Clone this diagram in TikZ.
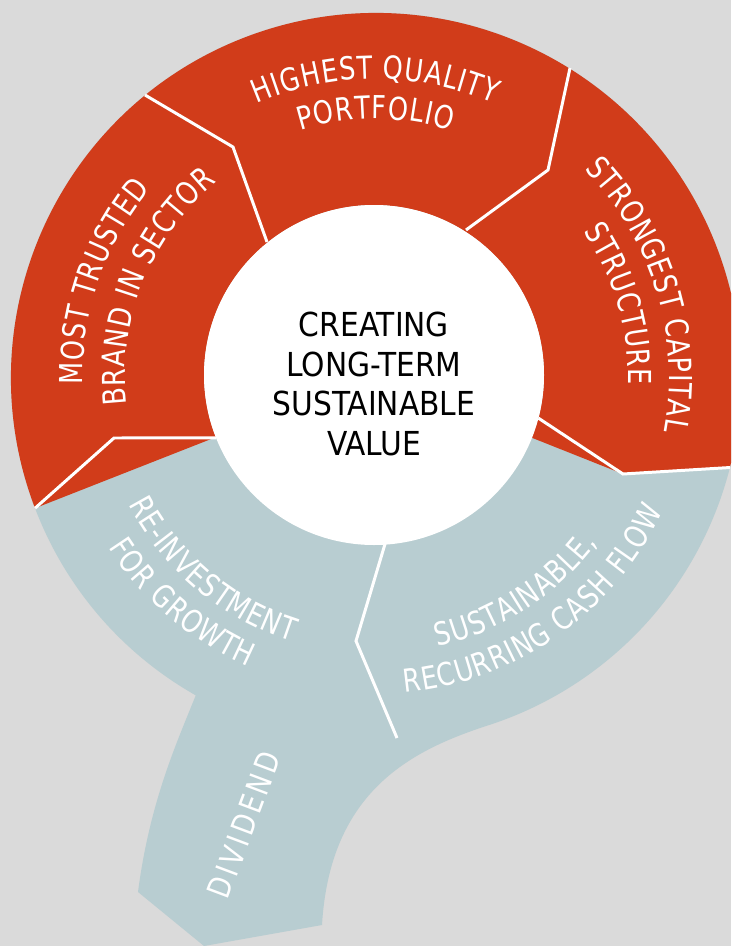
\documentclass[tikz,border=0pt]{standalone}
\usepackage{fontspec}
\setmainfont{DejaVu Sans Condensed}
\newfontfamily\labelfamily[FakeStretch=0.9]{DejaVu Sans Condensed}
\newfontfamily\spacedfamily[FakeStretch=0.9, LetterSpace=12]{DejaVu Sans Condensed}
\usetikzlibrary{decorations.text}
\definecolor{brandred}{HTML}{D13C1A}
\definecolor{flowblue}{HTML}{B8CDD1}
\definecolor{backgray}{HTML}{DADADA}
\newcommand{\arcfont}{\labelfamily\fontsize{18}{21}\selectfont\kern0.5pt}
\newcommand{\corefont}{\fontsize{18.8}{22.4}\selectfont}

\begin{document}
\begin{tikzpicture}[x=0.02cm, y=-0.02cm, divider/.style = {draw=white, line width=1.7pt}, arctext/.style = {decorate, decoration={text along path, text align=center, text color=white, text={|\arcfont|#1}}}]
\useasboundingbox (0,0) rectangle (731,946); \clip (0,0) rectangle (731,946);
\fill[backgray] (0,0) rectangle (731,946);
\coordinate (O) at (376,378); \coordinate (I) at (374,375); \coordinate (T) at (375,376);
\coordinate (tailR) at (322,925); \coordinate (tailB) at (204,946); \coordinate (tailL) at (138,892);
\fill[flowblue] (O) ++(119.6:365) coordinate (notch) arc[start angle=119.6, end angle=432, radius=365] .. controls (412.7,749.8) and (330,790) .. (tailR) -- (tailB) -- (tailL) .. controls (150,800) and (178,740) .. (notch) -- cycle;
\coordinate (k3) at (623,474); \coordinate (k5) at (114,438);
\fill[brandred] (O) ++(159.1:365) coordinate (o5) arc[start angle=159.1, end angle=374.2, radius=365] coordinate (o3) -- (k3) -- (I) ++(14.7:170) coordinate (i3) arc[start angle=14.7, end angle=-201.7, radius=170] coordinate (i5) -- (k5) -- cycle;
\fill[white] (I) circle[radius=170];
\coordinate (o1) at (145,95); \coordinate (k1) at (233,147); \coordinate (i1) at (267,242);
\coordinate (o2) at (570,68); \coordinate (k2) at (548,170); \coordinate (i2) at (466,230);
\coordinate (i4) at (385,544); \coordinate (k4) at (356,641); \coordinate (e4) at (397,738);
\draw[divider] (o1) -- (k1) -- (i1); \draw[divider] (o2) -- (k2) -- (i2); \draw[divider] (i3) -- (k3) -- (o3);
\draw[divider] (i4) -- (k4) -- (e4); \draw[divider] (i5) -- (k5) -- (o5);
\path[arctext={HIGHEST QUALITY}] (T) ++(200:297) arc[start angle=200, end angle=340, radius=297];
\path[arctext={PORTFOLIO}] (T) ++(200:257) arc[start angle=200, end angle=340, radius=257];
\path[arctext={MOST TRUSTED}] (T) ++(129:292) arc[start angle=129, end angle=269, radius=292];
\path[arctext={BRAND IN SECTOR}] (T) ++(132:250) arc[start angle=132, end angle=272, radius=250];
\path[arctext={STRONGEST CAPITAL}] (T) ++(273:294) arc[start angle=273, end angle=413, radius=294];
\path[arctext={STRUCTURE}] (T) ++(273.5:253) arc[start angle=273.5, end angle=413.5, radius=253];
\path[arctext={RE-INVESTMENT}] (T) ++(200:278) arc[start angle=200, end angle=60, radius=278];
\path[arctext={FOR GROWTH}] (T) ++(200.5:317) arc[start angle=200.5, end angle=60.5, radius=317];
\path[arctext={SUSTAINABLE,}] (T) ++(127:278) arc[start angle=127, end angle=-13, radius=278];
\path[arctext={RECURRING CASH FLOW}] (T) ++(125:318) arc[start angle=125, end angle=-15, radius=318];
\node[rotate=69.4, text=white, font=\spacedfamily\fontsize{18}{21}\selectfont] (dividend) at (244,825) {DIVIDEND};
\node[align=center, font=\corefont] (core) at (374,384) {CREATING\\LONG-TERM\\SUSTAINABLE\\VALUE};
\end{tikzpicture}
\end{document}
